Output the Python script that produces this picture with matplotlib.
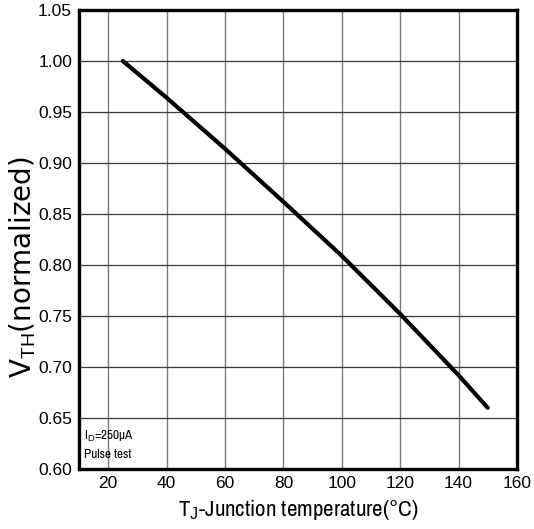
import matplotlib
matplotlib.use("Agg")
import matplotlib.pyplot as plt

plt.rcParams['font.family'] = ['Liberation Sans', 'DejaVu Sans']
plt.rcParams['mathtext.fontset'] = 'custom'
plt.rcParams['mathtext.rm'] = 'Liberation Sans'
plt.rcParams['mathtext.it'] = 'Liberation Sans'
plt.rcParams['mathtext.bf'] = 'Liberation Sans:bold'

temperature = [25, 40, 60, 80, 100, 120, 140, 150]
vth_norm = [1.000, 0.964, 0.914, 0.862, 0.809, 0.752, 0.692, 0.660]
x_ticks = [20, 40, 60, 80, 100, 120, 140, 160]
y_ticks = [0.60, 0.65, 0.70, 0.75, 0.80, 0.85, 0.90, 0.95, 1.00, 1.05]

narrow = ['Archivo Narrow', 'PT Sans Narrow', 'Roboto Condensed', 'Liberation Sans Narrow',
          'Liberation Sans', 'DejaVu Sans']

fig = plt.figure(figsize=(5.34, 5.29), dpi=100)
ax = fig.add_axes([0.148, 0.1134, 0.820, 0.8677])

ax.plot(temperature, vth_norm, color='black', linewidth=3.0, solid_capstyle='round')

ax.set_xlim(10, 160)
ax.set_ylim(0.60, 1.05)
ax.set_xticks(x_ticks)
ax.set_yticks(y_ticks)
ax.set_yticklabels([f"{v:.2f}" for v in y_ticks])
ax.tick_params(axis='both', length=0, labelsize=12.5, pad=5)

ax.grid(True, axis='x', color='#7a7a7a', linewidth=1.0)
ax.grid(True, axis='y', color='#3a3a3a', linewidth=0.9)
ax.set_axisbelow(True)

for s in ax.spines.values():
    s.set_linewidth(2.4)
    s.set_color('black')

ax.set_xlabel(r'T$_{\mathrm{J}}$-Junction temperature(°C)', fontsize=16.5, labelpad=5,
              family=narrow)
ax.set_ylabel(r'V$_{\mathrm{TH}}$(normalized)', fontsize=20, family=['DejaVu Sans'])
ax.yaxis.set_label_coords(-0.093, 0.44)

ax.text(0.012, 0.070, r'I$_{\mathrm{D}}$=250μA', transform=ax.transAxes, fontsize=9.5,
        family=narrow, va='center', ha='left')
ax.text(0.012, 0.031, 'Pulse test', transform=ax.transAxes, fontsize=9.5,
        family=narrow, va='center', ha='left')

fig.savefig('out.png', dpi=100)
